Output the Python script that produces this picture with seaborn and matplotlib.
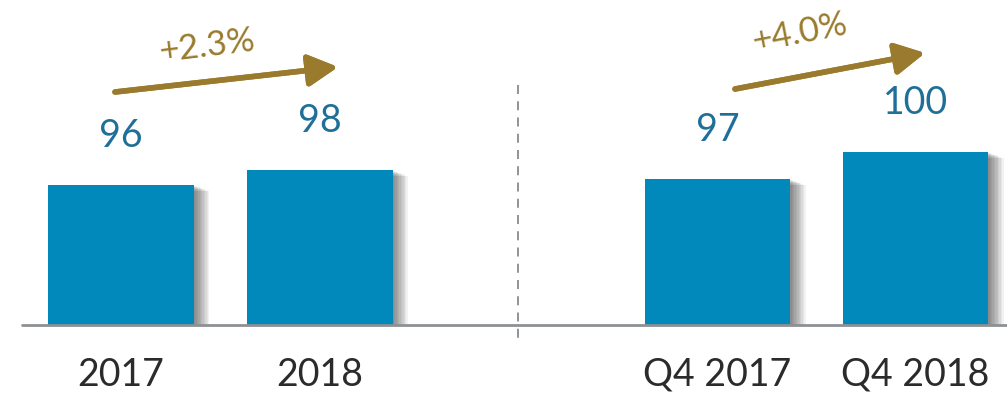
import matplotlib
matplotlib.use("Agg")
import matplotlib.pyplot as plt
import matplotlib.patheffects as pe
from matplotlib.lines import Line2D
import seaborn as sns
import pandas as pd

# ---- data ----
annual_labels = ["2017", "2018"]
annual_values = [96, 98]
quarter_labels = ["Q4 2017", "Q4 2018"]
quarter_values = [97, 100]
annual_growth = "+2.3%"
quarter_growth = "+4.0%"

BAR = "#0089BA"
VAL = "#1f6f98"
GOLD = "#9A7B2E"
TXT = "#2b2b2b"

sns.set_theme(style="white")
plt.rcParams["font.family"] = ["Lato", "DejaVu Sans"]

W, H = 1007, 393
fig = plt.figure(figsize=(W / 100, H / 100), dpi=100)

def fx(px):
    return px / W

def fy(py):
    return 1 - py / H

base_py = 325
axL = fig.add_axes([fx(22), fy(base_py), fx(500 - 22), base_py / H])
axR = fig.add_axes([fx(520), fy(base_py), fx(1007 - 520), base_py / H])

shadow = [pe.SimplePatchShadow(offset=(k, -0.4 * k), shadow_rgbFace="#000000", alpha=0.05)
          for k in range(1, 12)] + [pe.Normal()]

def panel(ax, labels, values, xlim, ylim):
    df = pd.DataFrame({"cat": labels, "val": values})
    sns.barplot(data=df, x="cat", y="val", ax=ax, color=BAR, saturation=1,
                width=0.735, edgecolor="none", linewidth=0)
    for p in ax.patches:
        p.set_path_effects(shadow)
    ax.set_xlim(*xlim)
    ax.set_ylim(*ylim)
    for s in ax.spines.values():
        s.set_visible(False)
    ax.set_yticks([])
    ax.set_xlabel("")
    ax.set_ylabel("")
    ax.tick_params(axis="x", length=0, pad=23, labelsize=27, labelcolor=TXT)
    ax.set_facecolor("none")
    for i, v in enumerate(values):
        ax.annotate(str(v), (i, v), xytext=(0, 35), textcoords="offset points",
                    ha="center", va="center", fontsize=27, color=VAL)

panel(axL, annual_labels, annual_values, (-0.499, 1.909), (77.33, 120.67))
panel(axR, quarter_labels, quarter_values, (-0.997, 1.462), (80.78, 116.89))

fig.add_artist(Line2D([fx(22), fx(1007)], [fy(base_py), fy(base_py)], color="#8c9194", lw=2))
fig.add_artist(Line2D([fx(518), fx(518)], [fy(85), fy(342)], color="#8a8a8a", lw=1.3,
                      linestyle=(0, (5, 4))))

def growth(x0, y0, x1, y1, text, tx, ty, rot):
    fig.add_artist(plt.annotate("", xy=(fx(x1), fy(y1)), xytext=(fx(x0), fy(y0)),
                                xycoords="figure fraction", textcoords="figure fraction",
                                arrowprops=dict(arrowstyle="-|>,head_length=1.5,head_width=0.8",
                                                color=GOLD, lw=4, shrinkA=0, shrinkB=0)))
    fig.text(fx(tx), fy(ty), text, ha="center", va="center", rotation=rot,
             fontsize=25, color=GOLD)

growth(115, 92, 338, 67, annual_growth, 207, 46, 7)
growth(735, 89, 925, 53, quarter_growth, 800, 33, 11)

fig.savefig("out.png", dpi=100)
